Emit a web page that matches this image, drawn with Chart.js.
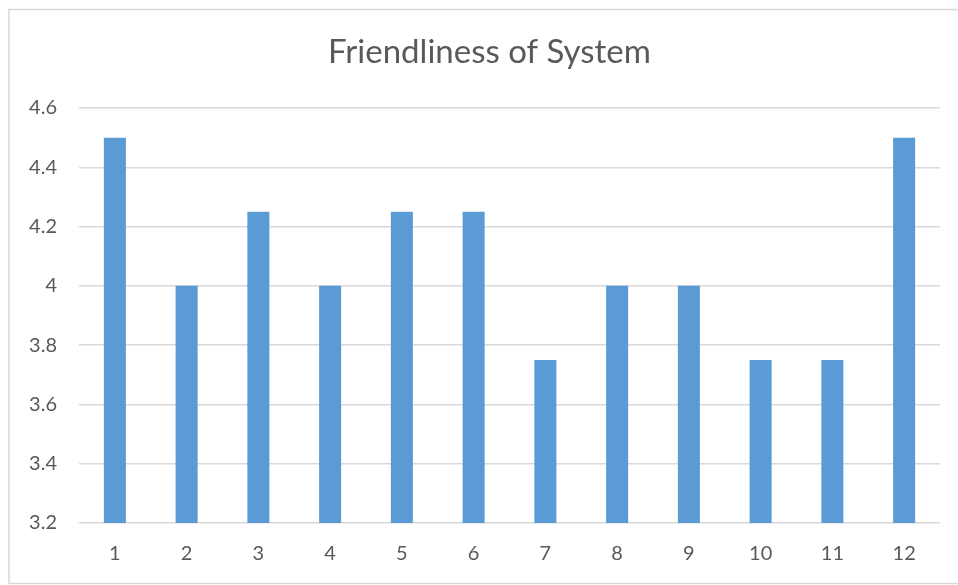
<!DOCTYPE html>
<html>
<head>
<meta charset="utf-8">
<script src="https://cdn.jsdelivr.net/npm/chart.js@4/dist/chart.umd.min.js"></script>
<style>
  html, body { margin: 0; padding: 0; background: #fff; }
  #wrap { position: relative; width: 958px; height: 585px; }
</style>
</head>
<body>
<div id="wrap"><canvas id="c" width="958" height="585"></canvas></div>
<script>
// Survey item numbers and their average friendliness scores
const categories = ['1', '2', '3', '4', '5', '6', '7', '8', '9', '10', '11', '12'];
const scores = [4.5, 4, 4.25, 4, 4.25, 4.25, 3.75, 4, 4, 3.75, 3.75, 4.5];
const yTickLabels = ['3.2', '3.4', '3.6', '3.8', '4', '4.2', '4.4', '4.6'];
const yMin = 3.2, yMax = 4.6, yStep = 0.2;

const TEXT = '#595959';
const GRID = '#D9D9D9';
const FONT = 'Lato, "Open Sans", sans-serif';

// Light frame around the chart (left, top and bottom edges)
const frame = {
  id: 'frame',
  beforeDraw(chart) {
    const ctx = chart.ctx;
    ctx.save();
    ctx.strokeStyle = GRID;
    ctx.lineWidth = 1.5;
    ctx.beginPath();
    ctx.moveTo(960, 9.5);
    ctx.lineTo(9, 9.5);
    ctx.lineTo(9, 583.5);
    ctx.lineTo(960, 583.5);
    ctx.stroke();
    ctx.restore();
  }
};

// The title spans the whole frame, so the value axis sits partly in the
// left padding; widen its label clip box to the canvas edge.
const widenYLabels = {
  id: 'widenYLabels',
  afterLayout(chart) {
    chart.scales.y.left = 0;
  }
};

new Chart(document.getElementById('c'), {
  type: 'bar',
  data: {
    labels: categories,
    datasets: [{
      data: scores,
      backgroundColor: '#5B9BD5',
      borderWidth: 0,
      categoryPercentage: 1,
      barPercentage: 0.307
    }]
  },
  options: {
    responsive: false,
    animation: false,
    events: [],
    layout: { padding: { left: 39, right: 18, top: 0, bottom: 0 } },
    plugins: {
      legend: { display: false },
      tooltip: { enabled: false },
      title: {
        display: true,
        text: 'Friendliness of System',
        color: TEXT,
        font: { family: FONT, size: 33, weight: 'normal' },
        padding: { top: 33, bottom: 35.4 }
      }
    },
    scales: {
      x: {
        grid: { display: false, drawTicks: false },
        border: { display: false },
        ticks: { color: TEXT, font: { family: FONT, size: 20 }, padding: 19, maxRotation: 0 },
        afterFit(s) { s.height = 62; }
      },
      y: {
        min: yMin,
        max: yMax,
        grid: { color: GRID, lineWidth: 1.5, drawTicks: false },
        border: { display: false },
        ticks: {
          stepSize: yStep,
          color: TEXT,
          font: { family: FONT, size: 20 },
          padding: 22,
          callback: (v, i) => yTickLabels[i]
        },
        afterFit(s) { s.width = 40; }
      }
    }
  },
  plugins: [frame, widenYLabels]
});
</script>
</body>
</html>
